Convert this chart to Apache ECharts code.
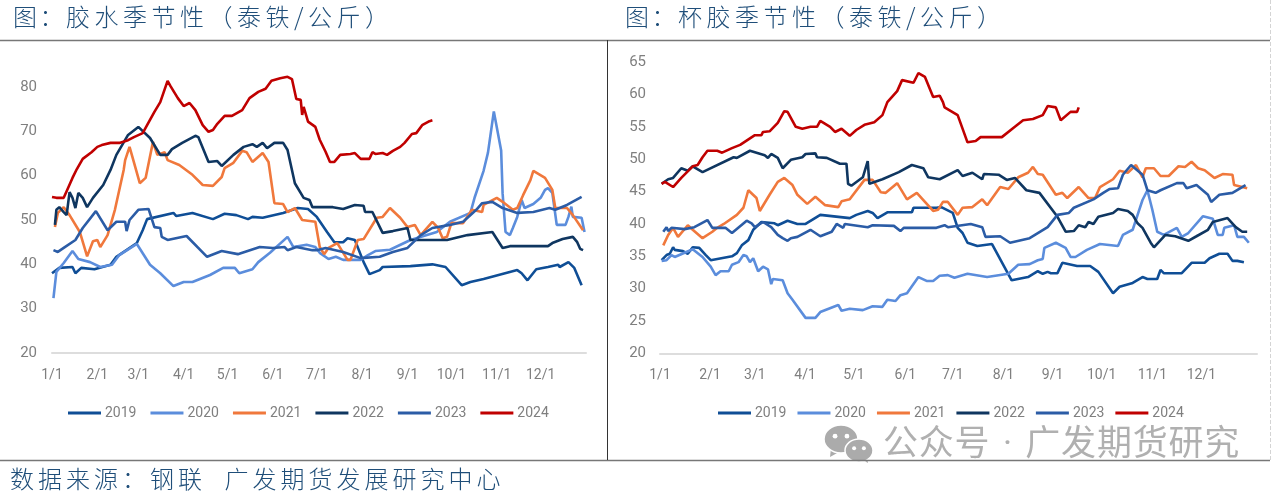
<!DOCTYPE html>
<html>
<head>
<meta charset="utf-8">
<title>胶水杯胶季节性</title>
<script src="https://cdn.jsdelivr.net/npm/echarts@6/dist/echarts.min.js"></script>
<style>
  html, body { margin: 0; padding: 0; background: #fff; }
  #page { position: relative; width: 1280px; height: 496px; overflow: hidden; }
  #chart { width: 1280px; height: 496px; }
  .note {
    position: absolute;
    white-space: pre;
    color: #1F4E79;
    font-family: "Noto Sans CJK SC", sans-serif;
    font-weight: 300;
    font-size: 24px;
    line-height: 30px;
    letter-spacing: 4.5px;
  }
  .note .lead { letter-spacing: 2.5px; }
  .mark {
    position: absolute;
    left: 883px;
    top: 423px;
    white-space: pre;
    color: #B0B0B0;
    font-family: Roboto, "Noto Sans CJK SC", sans-serif;
    font-size: 35px;
    line-height: 42px;
    letter-spacing: 0.8px;
    word-spacing: 3px;
  }
</style>
</head>
<body>
<div id="page">
  <div id="chart"></div>
  <div class="note" style="left:13px;top:1px"><span class="lead">图：</span>胶水季节性（泰铁/公斤）</div>
  <div class="note" style="left:625px;top:1px"><span class="lead">图：</span>杯胶季节性（泰铁/公斤）</div>
  <div class="note" style="left:10px;top:463px;letter-spacing:4px">数据来源：钢联  广发期货发展研究中心</div>
  <div class="mark">公众号 · 广发期货研究</div>
</div>
<script>
const years = ["2019", "2020", "2021", "2022", "2023", "2024"];
const colors = ["#0F4E96", "#5B8DDC", "#F0783C", "#0F3660", "#2B5CA6", "#C00000"];
const monthLabels = ["1/1", "2/1", "3/1", "4/1", "5/1", "6/1", "7/1", "8/1", "9/1", "10/1", "11/1", "12/1"];
const leftMonthDays = [0, 31, 59, 90, 120, 151, 181, 212, 243, 273, 304, 334];
const rightMonthDays = [0, 30.6, 58, 88.7, 118.6, 150, 179, 210, 240, 270, 301, 331];

// 胶水 [day of year, 泰铁/公斤]
const latex2019 = [[0,38],[5,39.2],[14,39.4],[16,38],[20,39.2],[29,38.9],[40,39.9],[44,41.7],[58,44.8],[62,47.7],[65,50.2],[83,51.6],[85,50.9],[96,51.6],[110,50.2],[118,51.4],[126,51.1],[134,50.2],[137,50.7],[144,50.5],[158,51.6],[168,52.7],[175,52.5],[181,50.7],[188,47.3],[193,45],[199,45],[202,45.9],[207,45.5],[213,40.5],[217,37.8],[224,38.7],[226,39.4],[245,39.6],[260,40],[269,39.4],[280,35.3],[286,36],[295,36.7],[318,38.7],[321,38],[325,36.4],[331,38.9],[339,39.4],[346,39.9],[347,39.4],[353,40.5],[357,39.2],[362,35.3]];
const latex2020 = [[1,32.4],[3,38.3],[8,40.3],[14,43],[18,41.2],[26,40.5],[33,39.4],[41,39.9],[46,42.1],[58,44.6],[67,39.9],[74,38],[83,35.1],[90,36],[96,36],[108,37.6],[117,39.2],[125,39.2],[128,38],[137,38.9],[141,40.5],[149,42.6],[161,46.2],[165,43.9],[174,44.4],[180,43.9],[183,42.6],[189,41.2],[194,41.7],[199,41],[211,41],[216,42.1],[221,43],[231,43.3],[245,45.5],[263,47.3],[272,49.6],[286,51.6],[289,55.2],[295,61.1],[298,65.2],[302,74.5],[307,65.7],[308,56],[310,47.3],[313,46.6],[315,48.2],[318,50.7],[321,54.5],[323,52.7],[329,53.6],[334,55],[337,56.8],[339,57.2],[342,56.1],[345,48.9],[351,48.9],[353,50.7],[355,53],[356,50.7],[362,50.5],[364,47.3]];
const latex2021 = [[2,48.4],[4,51.6],[8,52.9],[12,51.1],[19,47.3],[24,41.8],[25,41.8],[28,45.2],[31,45.5],[33,43.9],[38,46.6],[43,52.3],[49,61.3],[50,63.5],[53,66.5],[55,64.2],[60,58.3],[64,59.5],[69,67.6],[72,64.7],[77,65.3],[79,63.5],[87,62.4],[96,60.2],[103,57.9],[110,57.7],[116,59.7],[118,61.7],[124,62.9],[130,65.6],[133,65.3],[137,63.1],[144,65.1],[148,63.1],[152,53.8],[158,53.6],[161,51.8],[166,52.7],[171,50],[180,49.6],[183,43.9],[186,42.3],[189,43.7],[195,44.8],[202,41],[204,41],[209,45.5],[213,45.7],[222,50.5],[226,50.7],[231,52.7],[238,50.5],[243,48.4],[248,48.9],[252,46.6],[260,49.6],[264,48.2],[267,45.9],[270,46.2],[273,49.3],[281,49.3],[287,52.3],[294,51.8],[295,53.4],[304,55],[308,54.1],[315,52.3],[318,52.7],[322,55.6],[327,59],[329,61.1],[337,59.5],[342,56.8],[344,52.7],[352,52.7],[356,51.1],[363,47.7]];
const latex2022 = [[2,48.9],[3,52.3],[5,52.9],[8,51.8],[10,51.1],[12,56.3],[14,55],[16,52.7],[18,56.1],[21,55],[24,52.9],[28,55],[35,57.9],[40,61.3],[44,64.7],[52,69.2],[59,71],[67,68.5],[74,64.7],[79,64.7],[82,66],[89,67.4],[98,69],[100,68.7],[107,63.1],[113,63.3],[116,62.2],[124,64.7],[131,66.5],[137,67.1],[140,66.5],[144,67.4],[147,66.2],[152,67.4],[158,67.4],[161,65.8],[166,58.3],[172,55],[176,54.5],[178,52.9],[192,52.9],[199,52.5],[207,53.4],[213,53.2],[214,51.8],[219,51.8],[226,47.1],[233,47.5],[243,48.2],[245,45.5],[270,45.5],[284,46.6],[301,47.3],[308,43.7],[313,44.1],[339,44.1],[342,44.8],[349,45.7],[356,46.2],[359,45],[361,43.5],[363,43.2]];
const latex2023 = [[1,43.2],[4,42.8],[8,43.7],[16,45.5],[21,48.2],[30,52],[38,47.7],[44,49.6],[50,49.6],[51,47.5],[53,50],[59,52.3],[66,52.5],[70,48.4],[74,48.2],[75,46.2],[79,45.5],[92,46.4],[106,41.7],[116,43],[127,42.3],[142,43.9],[151,43.7],[159,43.9],[161,43.2],[167,43.9],[178,43.2],[181,43.2],[187,43.7],[199,42.8],[211,41.4],[224,41.7],[233,42.8],[243,43.7],[252,46.6],[260,48.2],[272,48.9],[281,49.6],[290,52.3],[294,53.8],[301,54.1],[308,52.7],[318,51.6],[329,51.8],[340,52.7],[344,52.3],[352,53.4],[362,55.2]];
const latex2024 = [[0,55.2],[3,55],[8,55],[10,56.5],[14,59.5],[17,61.5],[21,63.8],[27,65.3],[31,66.5],[34,66.9],[40,67.4],[46,67.4],[52,68],[56,68.7],[62,69.6],[65,71.4],[70,74.4],[74,76.6],[79,81.4],[81,80.2],[86,77.5],[90,75.7],[94,76.4],[98,74.8],[103,71.4],[107,69.9],[110,70.3],[113,71.7],[118,73.5],[123,73.5],[130,74.8],[135,77.5],[141,78.9],[146,79.6],[150,81.4],[156,82],[161,82.3],[164,81.8],[167,77.3],[170,77.1],[171,73.7],[172,75.5],[175,72.2],[180,71],[183,68.1],[187,65.4],[190,63.1],[193,63.1],[197,64.7],[204,64.9],[207,65.1],[211,63.8],[217,63.8],[219,65.3],[221,64.9],[226,65.1],[229,64.7],[233,65.6],[238,66.5],[241,67.4],[246,69.4],[249,69.6],[253,71.4],[258,72.3],[260,72.5]];

// 杯胶 [day of year, 泰铁/公斤]
const cup2019 = [[1,34.4],[4,35.2],[6,35.4],[8,36.4],[9,36],[14,35.8],[17,35.4],[20,36.4],[24,36.3],[28,35.2],[31,34.4],[44,35],[47,35.5],[50,36.7],[54,37.5],[57,39.1],[62,40.3],[70,40.1],[72,39.8],[78,40.5],[84,40],[89,40],[98,41.4],[116,40.9],[120,41.4],[127,42],[130,41.7],[133,40.9],[139,41.8],[154,41.8],[155,42.5],[169,42.5],[172,42.6],[179,41.7],[182,39.4],[185,38.6],[188,37.1],[194,36.6],[203,36.9],[215,31.3],[225,31.8],[231,32.7],[234,32.3],[237,32.6],[239,32.4],[243,32.4],[246,34],[255,33.5],[263,33.5],[268,32.6],[277,29.3],[281,30.3],[289,30.9],[295,31.8],[298,31.5],[304,31.5],[306,32.9],[308,32.4],[319,32.4],[325,34],[333,34],[336,34.7],[342,35.4],[347,35.4],[350,34.3],[353,34.3],[357,34.1]];
const cup2020 = [[1,34.3],[4,34.4],[7,35.2],[9,34.9],[20,36.1],[26,34.9],[31,33.4],[34,32.1],[37,32.7],[42,32.7],[44,33.7],[48,34.1],[51,35.2],[53,35],[55,34.1],[57,34.7],[60,32.7],[63,33.4],[66,33],[68,30.7],[69,31.5],[75,31.3],[78,29.3],[81,28.3],[89,25.5],[95,25.5],[98,26.4],[109,27.5],[111,26.6],[116,26.9],[124,26.7],[130,27.3],[136,27.2],[139,28.3],[144,28.1],[147,29],[151,29.3],[158,31.8],[163,31.2],[167,31.2],[171,32],[176,32.1],[180,31.7],[188,32.3],[200,31.8],[213,32.3],[219,33.7],[226,33.8],[231,34.4],[234,34.6],[235,36.3],[242,37.1],[248,36.3],[251,34.9],[254,34.9],[261,36],[269,36.9],[280,36.6],[283,38.3],[289,39.1],[292,41.4],[295,43.7],[298,45.2],[301,42.2],[304,38.8],[308,38.3],[316,39.4],[319,38],[323,38.6],[332,41.2],[338,40.8],[341,38.3],[344,38.3],[345,39.4],[351,39.8],[353,38],[357,38],[360,37.1]];
const cup2021 = [[2,36.7],[5,38.3],[8,39.4],[11,38],[17,39.8],[20,39.1],[21,39.2],[26,37.8],[32,38.8],[35,39.4],[39,40],[47,41.4],[51,42.5],[54,45.2],[59,44],[61,42],[67,44.5],[72,46.5],[76,47.1],[81,46],[84,44.5],[90,43.1],[95,44.2],[101,42.9],[109,42.6],[111,43.5],[116,43.8],[125,46.8],[130,46.8],[135,44.9],[138,44.8],[145,46.3],[151,43.8],[157,44.8],[167,42],[170,42.2],[173,43.4],[176,43.4],[182,41.4],[185,42.5],[191,42.6],[197,43.8],[200,42.9],[208,45.7],[213,45.4],[219,47.2],[225,47.9],[228,48.8],[231,47.7],[234,47.6],[242,44.5],[246,44.8],[249,44],[256,45.7],[262,44],[266,44],[269,45.7],[277,46.9],[281,48.2],[286,47.9],[287,47.6],[291,49.1],[295,47.2],[297,48.6],[302,48.6],[306,47.4],[311,47.4],[317,48.9],[321,48.8],[325,49.6],[329,48.6],[333,48.3],[339,47.1],[344,47.7],[350,47.6],[351,46],[356,45.7],[359,45.5]];
const cup2022 = [[1,46.2],[5,46.9],[8,47.1],[13,48.6],[17,48.2],[20,48.9],[21,48.8],[26,48],[45,50.3],[47,50.2],[55,51.3],[64,50.6],[66,50.2],[68,50.8],[72,50.2],[75,48.6],[80,49.9],[87,50.3],[89,50.8],[95,50.9],[96,50.3],[102,50.2],[110,49.3],[114,49.3],[115,46.2],[117,45.9],[124,47.2],[125,47.1],[127,49.7],[128,46.2],[136,46.9],[146,48],[154,49.1],[161,48.6],[164,47.2],[171,46.9],[182,48.3],[185,47.4],[191,47.9],[197,46.9],[198,47.7],[207,47.6],[212,46.8],[217,47.1],[224,45.2],[232,44.8],[243,41.1],[248,38.8],[253,38.9],[256,39.8],[260,39.5],[262,40.3],[265,40],[268,41.1],[277,41.7],[280,42.3],[286,42],[289,41.4],[292,40.1],[295,39.4],[300,37.1],[302,36.4],[309,38.3],[315,38.1],[323,37.4],[328,38.1],[335,39.1],[338,40.3],[347,40.9],[352,39.5],[356,38.8],[359,38.8]];
const cup2023 = [[2,38.8],[4,39.5],[5,38.9],[7,39.4],[15,39.2],[21,39.5],[29,40.6],[32,39.4],[40,39.4],[44,38.6],[53,40.5],[56,40.1],[58,39.5],[63,40.3],[68,39.5],[72,38.3],[75,37.8],[78,37.4],[80,37.8],[84,38],[92,39.1],[98,38.1],[105,38.8],[108,40],[112,39.4],[113,40],[127,39.5],[130,39.8],[143,39.7],[147,38.9],[149,39.4],[169,39.4],[174,39.8],[176,39.5],[190,40],[197,39.5],[199,38],[208,38.1],[214,37.1],[226,37.8],[237,39.5],[243,41.4],[250,41.7],[253,42.5],[265,43.8],[271,44.8],[275,45.4],[280,45.5],[283,47.6],[288,49.1],[295,47.6],[298,45.2],[303,44.8],[306,45.2],[316,46.3],[320,46.3],[322,45.5],[328,46],[335,44.5],[337,43.4],[342,44.5],[350,44.8],[358,46]];
const cup2024 = [[1,46.2],[3,46.5],[8,45.7],[13,47.1],[20,48.9],[23,49.1],[26,50.3],[29,51.3],[35,51.3],[38,51],[44,51.7],[49,52.2],[58,53.7],[62,53.7],[63,54.2],[67,54.3],[72,55.6],[76,57.4],[78,57.3],[83,55],[87,54.7],[92,55],[96,55],[98,55.9],[104,55],[107,54.2],[111,54.7],[116,53.6],[120,54.5],[125,55.3],[131,55.7],[136,56.8],[139,58.8],[145,60.5],[148,62.2],[155,61.8],[158,63.3],[162,62.7],[167,59.6],[171,59.8],[173,58.8],[174,58],[182,56.8],[188,52.6],[193,52.8],[194,52.5],[196,53.4],[209,53.4],[216,54.8],[222,56],[228,56.2],[234,56.8],[237,58.2],[242,58],[245,56],[251,57.3],[255,57.3],[256,58]];

const latexData = [latex2019, latex2020, latex2021, latex2022, latex2023, latex2024];
const cupData = [cup2019, cup2020, cup2021, cup2022, cup2023, cup2024];

const latinFont = "Roboto";
const labelGray = "#7F7F7F";

function makeSeries(list, axisIndex) {
  return list.map((data, i) => ({
    name: years[i],
    type: "line",
    xAxisIndex: axisIndex,
    yAxisIndex: axisIndex,
    data: data,
    showSymbol: false,
    animation: false,
    lineStyle: { width: 2.6, color: colors[i] },
    itemStyle: { color: colors[i] },
  }));
}

function makeXAxis(index, ticks, max) {
  return {
    type: "value",
    gridIndex: index,
    min: 0,
    max: max,
    splitLine: { show: false },
    axisTick: { show: false },
    axisLine: { onZero: false, lineStyle: { color: "#DDDDDD", width: 2 } },
    axisLabel: {
      customValues: ticks,
      formatter: (v) => monthLabels[ticks.indexOf(v)],
      color: labelGray,
      fontFamily: latinFont,
      fontSize: 14,
      margin: 15,
    },
  };
}

function makeYAxis(index, min, max, step, margin) {
  return {
    type: "value",
    gridIndex: index,
    min: min,
    max: max,
    interval: step,
    splitLine: { show: false },
    axisTick: { show: false },
    axisLine: { show: false },
    axisLabel: {
      showMaxLabel: index === 1,
      color: labelGray,
      fontFamily: latinFont,
      fontSize: 15,
      margin: margin,
      padding: [4, 0, 0, 0],
    },
  };
}

function makeLegend(left, gap) {
  return {
    data: years,
    left: left,
    top: 406,
    padding: 0,
    icon: "rect",
    itemWidth: 33,
    itemHeight: 3,
    itemGap: gap,
    textStyle: { color: labelGray, fontFamily: latinFont, fontSize: 14, padding: [0, 0, 0, -1] },
  };
}

function rule(x1, y1, x2, y2, color, width, dash) {
  return {
    type: "line",
    z: 10,
    shape: { x1: x1, y1: y1, x2: x2, y2: y2 },
    style: { stroke: color, lineWidth: width, lineDash: dash || null },
  };
}

const wechatGray = "#ABABAB";
function bubble(cx, cy, rx, ry, eye, tail) {
  return {
    type: "group",
    z: 21,
    children: [
      { type: "polygon", shape: { points: tail }, style: { fill: wechatGray } },
      { type: "ellipse", shape: { cx: cx, cy: cy, rx: rx, ry: ry }, style: { fill: wechatGray, stroke: "#fff", lineWidth: 1.5 } },
      { type: "circle", shape: { cx: cx - rx * 0.35, cy: cy - ry * 0.2, r: eye }, style: { fill: "#fff" } },
      { type: "circle", shape: { cx: cx + rx * 0.35, cy: cy - ry * 0.2, r: eye }, style: { fill: "#fff" } },
    ],
  };
}

const chart = echarts.init(document.getElementById("chart"), null, { renderer: "canvas" });
chart.setOption({
  backgroundColor: "#fff",
  animation: false,
  grid: [
    { left: 52, width: 534, top: 42.7, bottom: 143 },
    { left: 660, width: 597, top: 62, bottom: 142.5 },
  ],
  xAxis: [makeXAxis(0, leftMonthDays, 365), makeXAxis(1, rightMonthDays, 365)],
  yAxis: [makeYAxis(0, 20, 90, 10, 15), makeYAxis(1, 20, 65, 5, 14)],
  legend: [makeLegend(68, 14), makeLegend(718, 11)],
  series: makeSeries(latexData, 0).concat(makeSeries(cupData, 1)),
  graphic: [
    rule(0, 40.5, 1270, 40.5, "#777777", 1.6),
    rule(0, 460.5, 1270, 460.5, "#777777", 1.6),
    rule(607.5, 40, 607.5, 460, "#333333", 1),
    rule(1270.5, 0, 1270.5, 460, "#D4D4D4", 1, [4, 2]),
    bubble(841, 439, 17, 14, 2.4, [[831, 448], [830, 457], [839, 452]]),
    bubble(859, 450.5, 14, 11.5, 2, [[861, 459], [868, 463], [867, 457]]),
  ],
});

window.addEventListener("resize", () => chart.resize());
</script>
</body>
</html>
